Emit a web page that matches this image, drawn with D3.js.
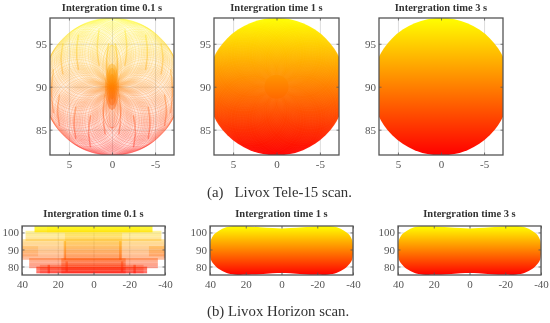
<!DOCTYPE html>
<html><head><meta charset="utf-8">
<script src="https://cdnjs.cloudflare.com/ajax/libs/d3/7.8.5/d3.min.js"></script>
<style>html,body{margin:0;padding:0;background:#fff}svg{display:block;filter:blur(.55px)}text{font-family:"Liberation Serif",serif}</style>
</head><body><svg id="c" width="550" height="323"></svg>
<script>
// ---- data ----
const titles = ["Intergration time 0.1 s","Intergration time 1 s","Intergration time 3 s"];
const captions = ["(a)\u00A0\u00A0\u00A0Livox Tele-15 scan.","(b) Livox Horizon scan."];
const teleXTicks = [5,0,-5];
const teleYTicks = [95,90,85];
const horXTicks = [40,20,0,-20,-40];
const horYTicks = [100,90,80];
const teleFovRadius = 8;
const teleCenterY = 90;
const petalAngles = [0,30,60,90,120,150,180,210,240,270,300,330];
const petalOffsets = [-12,-8,-5,-2.5,0,2.5,5,8,12];
const petalRadius = [4];
// caustic bands: [|x|, y0, y1]
const teleBands = [[5.9,91.5,95],[4.1,92,96],[1.7,92.5,96.6],[0.6,90.5,95],[7,87,92],
                   [6.3,85.5,89],[4.4,84,87.6],[2.7,83,86.6],[1,84.5,89]];
const slimPetalWidths = [0.35,0.7,1.1];
const slimPetalEnds = [94.8,85.2];
const blobRadii = [[.8,2.7],[.6,2.2],[.4,1.5]];
const teleCoverRadius = [1.4,1.4];
// Horizon outline (upper and lower, x>0; mirrored)
const horOutlineX = [40,39.5,38,35,31,26,20,12,5,0];
const horUpperY = [91.5,95.5,98.5,101,103,103.9,103.7,103.1,102.6,102.4];
const horLowerY = [87.5,84,81.5,78.5,76.3,75.2,75.1,75.5,76,76.2];
// Horizon 0.1 s blocks: [x0,x1,y0,y1,opacity]
const horBlocks = [[33,-33,100,104,.8],[38,-38,95,101,.4],[40,-40,84,96,.42],[36,-36,79,85,.45],
  [32,-30,76,80,.6],[16,-16,84,100,.3],[18,-18,76,85,.45],[30,-28,76,81,.3],
  [26,-26,100,104,.4],[40,31,86,92,.2],[-31,-40,86,92,.3]];
const horBands = [[16,84,95,.5],[-15,84,95,.5],[25,76,81,.5],[-23,76,81,.5],[15,77,83,.45],[-16,77,83,.45],[-40,85,93,.4],[40,85,93,.25]];
const horRows = [77.5,80,82.5,85,87.5,90,92.5,95,97.5,100];
const telePanels = [[50,174],[214,339],[379,503]];
const horPanels = [[22,165],[210,353],[398,541]];
// ---- drawing ----
const svg = d3.select("#c"), defs = svg.append("defs");
const YEL="#ffff00", RED="#ff0000", GRID="#b9b9b9", FR="#555";
let uid=0;
function panel(px, py, xd, yd, xt, yt, title, titleY){
  const id=uid++;
  const x=d3.scaleLinear().domain(xd).range(px), y=d3.scaleLinear().domain(yd).range(py);
  const grad=defs.append("linearGradient").attr("id","g"+id).attr("gradientUnits","userSpaceOnUse")
    .attr("x1",0).attr("x2",0).attr("y1",py[1]).attr("y2",py[0]);
  grad.append("stop").attr("offset",0).attr("stop-color",YEL);
  grad.append("stop").attr("offset",1).attr("stop-color",RED);
  defs.append("clipPath").attr("id","p"+id).append("rect").attr("x",px[0]).attr("y",py[1]).attr("width",px[1]-px[0]).attr("height",py[0]-py[1]);
  const g=svg.append("g");
  const h=py[0]-py[1], w=px[1]-px[0];
  const gridB=d3.axisBottom(x).tickValues(xt).tickSize(-h).tickFormat("");
  const gridL=d3.axisLeft(y).tickValues(yt).tickSize(-w).tickFormat("");
  [[gridB,`translate(0,${py[0]})`],[gridL,`translate(${px[0]},0)`]].forEach(([a,t])=>{
    const gg=g.append("g").attr("transform",t).call(a);
    gg.selectAll(".domain").remove(); gg.selectAll("line").attr("stroke",GRID).attr("stroke-width",.7).attr("opacity",.7);
  });
  const plot=g.append("g").attr("clip-path",`url(#p${id})`);
  const fs=11;
  const fmt=d=>String(d);
  const ab=g.append("g").attr("transform",`translate(0,${py[0]})`).call(d3.axisBottom(x).tickValues(xt).tickSize(-2.5).tickPadding(5).tickFormat(fmt));
  const al=g.append("g").attr("transform",`translate(${px[0]},0)`).call(d3.axisLeft(y).tickValues(yt).tickSize(-2.5).tickPadding(3).tickFormat(fmt));
  const at=g.append("g").attr("transform",`translate(0,${py[1]})`).call(d3.axisTop(x).tickValues(xt).tickSize(-2.5).tickFormat(""));
  const ar=g.append("g").attr("transform",`translate(${px[1]},0)`).call(d3.axisRight(y).tickValues(yt).tickSize(-2.5).tickFormat(""));
  [ab,al,at,ar].forEach(a=>{a.selectAll(".domain").remove();a.selectAll("line").attr("stroke",FR).attr("stroke-width",.8);
    a.selectAll("text").attr("font-size",fs).attr("fill","#555").attr("font-family","Liberation Serif");});
  g.append("rect").attr("x",px[0]).attr("y",py[1]).attr("width",w).attr("height",h).attr("fill","none").attr("stroke",FR).attr("stroke-width",1.3);
  g.append("text").attr("x",(px[0]+px[1])/2).attr("y",titleY).attr("text-anchor","middle").attr("font-size",10.5).attr("font-weight","bold").attr("fill","#333").text(title);
  return {x,y,plot,fill:`url(#g${id})`};
}
function teleCircles(P, stroke, sw, op){
  const pts=[];
  petalAngles.forEach(a=>petalOffsets.forEach(o=>petalRadius.forEach(r=>pts.push({a:(a+o)*Math.PI/180,r}))));
  const k=P.x(0)-P.x(1);
  P.plot.append("g").selectAll("circle").data(pts).join("circle")
    .attr("cx",d=>P.x(-(teleFovRadius-d.r)*Math.sin(d.a)))
    .attr("cy",d=>P.y(teleCenterY+(teleFovRadius-d.r)*Math.cos(d.a)))
    .attr("r",d=>d.r*k).attr("fill","none").attr("stroke",stroke).attr("stroke-width",sw).attr("opacity",op);
}
function teleDisc(P, op){
  P.plot.append("ellipse").attr("cx",P.x(0)).attr("cy",P.y(teleCenterY))
    .attr("rx",P.x(0)-P.x(teleFovRadius)).attr("ry",P.y(teleCenterY-teleFovRadius)-P.y(teleCenterY))
    .attr("fill",P.fill).attr("opacity",op);
}
const teleY=[155,18], horY=[275,226];
const teleXD=[7.2,-7.2], teleYD=[82.05,98], horXD=[40,-40], horYD=[75,103.8];
// Tele 0.1 s
{
  const P=panel(telePanels[0],teleY,teleXD,teleYD,teleXTicks,teleYTicks,titles[0],11);
  teleDisc(P,.15);
  teleCircles(P,P.fill,.4,.45);
  const line=d3.line().x(d=>P.x(d[0])).y(d=>P.y(d[1])).curve(d3.curveBasis);
  slimPetalEnds.forEach(e=>slimPetalWidths.forEach(wd=>{
    P.plot.append("ellipse").attr("cx",P.x(0)).attr("cy",P.y((e+teleCenterY)/2))
      .attr("rx",P.x(0)-P.x(wd)).attr("ry",Math.abs(P.y(e)-P.y(teleCenterY))/2)
      .attr("fill","none").attr("stroke",P.fill).attr("stroke-width",.7).attr("opacity",.28);
  }));
  teleBands.forEach(b=>[1,-1].forEach(s=>{
    P.plot.append("path").attr("d",line([[s*(b[0]-.2),b[1]],[s*(b[0]+.12),(b[1]+b[2])/2],[s*(b[0]-.2),b[2]]]))
      .attr("fill","none").attr("stroke",P.fill).attr("stroke-width",1.5).attr("stroke-linecap","round").attr("opacity",.36);
  }));
  blobRadii.forEach(r=>P.plot.append("ellipse").attr("cx",P.x(0)).attr("cy",P.y(90))
    .attr("rx",P.x(0)-P.x(r[0])).attr("ry",P.y(90-r[1])-P.y(90)).attr("fill",P.fill).attr("opacity",.42));
}
// Tele 1 s
{
  const P=panel(telePanels[1],teleY,teleXD,teleYD,teleXTicks,teleYTicks,titles[1],11);
  teleDisc(P,1);
  teleCircles(P,"#fff",.3,.07);
  P.plot.append("ellipse").attr("cx",P.x(0)).attr("cy",P.y(90))
    .attr("rx",P.x(0)-P.x(teleCoverRadius[0])).attr("ry",P.y(90-teleCoverRadius[1])-P.y(90)).attr("fill",P.fill);
}
// Tele 3 s
{
  const P=panel(telePanels[2],teleY,teleXD,teleYD,teleXTicks,teleYTicks,titles[2],11);
  teleDisc(P,1);
}
// Horizon 0.1 s
{
  const P=panel(horPanels[0],horY,horXD,horYD,horXTicks,horYTicks,titles[0],217);
  P.plot.selectAll("rect.b").data(horBlocks).join("rect").attr("class","b")
    .attr("x",d=>P.x(d[0])).attr("width",d=>P.x(d[1])-P.x(d[0]))
    .attr("y",d=>P.y(d[3])).attr("height",d=>P.y(d[2])-P.y(d[3]))
    .attr("fill",P.fill).attr("opacity",d=>d[4]);
  P.plot.selectAll("line.r").data(horRows).join("line").attr("class","r")
    .attr("x1",P.x(40)).attr("x2",P.x(-40)).attr("y1",d=>P.y(d)).attr("y2",d=>P.y(d))
    .attr("stroke","#fff").attr("stroke-width",.6).attr("opacity",.3);
  P.plot.selectAll("line.v").data(horBands).join("line").attr("class","v")
    .attr("x1",d=>P.x(d[0])).attr("x2",d=>P.x(d[0])).attr("y1",d=>P.y(d[1])).attr("y2",d=>P.y(d[2]))
    .attr("stroke",P.fill).attr("stroke-width",2.4).attr("opacity",d=>d[3]);
}
// Horizon 1 s and 3 s
[1,2].forEach(i=>{
  const P=panel(horPanels[i],horY,horXD,horYD,horXTicks,horYTicks,titles[i],217);
  const ring=[...horOutlineX.map((v,j)=>[v,horUpperY[j]]),
              ...horOutlineX.slice(0,-1).map((v,j)=>[-v,horUpperY[j]]).reverse(),
              ...horOutlineX.slice(0,-1).map((v,j)=>[-v,horLowerY[j]]),
              ...horOutlineX.map((v,j)=>[v,horLowerY[j]]).reverse()];
  P.plot.append("path").attr("d",d3.line().x(d=>P.x(d[0])).y(d=>P.y(d[1])).curve(d3.curveCatmullRomClosed)(ring)).attr("fill",P.fill);
});
// captions
svg.append("text").attr("x",207).attr("y",197).attr("font-size",14.8).attr("fill","#333").text(captions[0]);
svg.append("text").attr("x",207).attr("y",316).attr("font-size",14.8).attr("fill","#333").text(captions[1]);
</script></body></html>
